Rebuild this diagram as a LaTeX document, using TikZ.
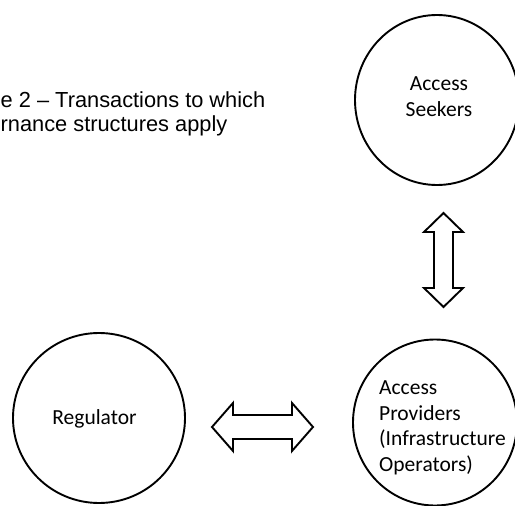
\documentclass[tikz,border=0pt]{standalone}
\usepackage{fontspec}
\setmainfont{Carlito}
\newfontfamily\arialfont{Liberation Sans}
\usetikzlibrary{shapes.geometric}
\begin{document}
\begin{tikzpicture}[x=1pt,y=-1pt,
  party/.style={ellipse, draw=black, line width=1.9pt, inner sep=0pt},
  partytext/.style={inner sep=0pt, font=\fontsize{21.5}{25.5}\selectfont},
  blockarrow/.style={draw=black, line width=1.9pt, line join=miter, fill=white},
  titletext/.style={inner sep=0pt, align=left, font=\arialfont\fontsize{21.8}{24}\selectfont}]
\useasboundingbox (0,0) rectangle (515,506);
% circles
\node[party, minimum width=164pt, minimum height=170pt] (seek) at (437,100) {};
\node[party, minimum width=164pt, minimum height=166pt] (prov) at (435,422.5) {};
\node[party, minimum width=172pt, minimum height=170pt] (reg) at (99,418) {};
% texts
\node[partytext, align=center, anchor=north] (seekt) at (439,77) {Access\\Seekers};
\node[partytext, align=left, anchor=north west] (provt) at (379,381) {Access\\Providers\\(Infrastructure\\Operators)};
\node[partytext, anchor=base] (regt) at (94.5,424) {Regulator};
\node[titletext, anchor=north west] (title) at (0.5,91.4) {e 2 – Transactions to which\\rnance structures apply};
% double block arrows
\coordinate (va) at (443.5,260);
\coordinate (ha) at (262.5,427);
\draw[blockarrow, shift={(va)}]
  (0,-47) -- (19.5,-28) -- (9.5,-28) -- (9.5,28) -- (19.5,28) -- (0,47)
  -- (-19.5,28) -- (-9.5,28) -- (-9.5,-28) -- (-19.5,-28) -- cycle;
\draw[blockarrow, shift={(ha)}]
  (-50.5,0) -- (-29.5,-24) -- (-29.5,-12) -- (29.5,-12) -- (29.5,-24) -- (50.5,0)
  -- (29.5,24) -- (29.5,12) -- (-29.5,12) -- (-29.5,24) -- cycle;
\end{tikzpicture}
\end{document}
